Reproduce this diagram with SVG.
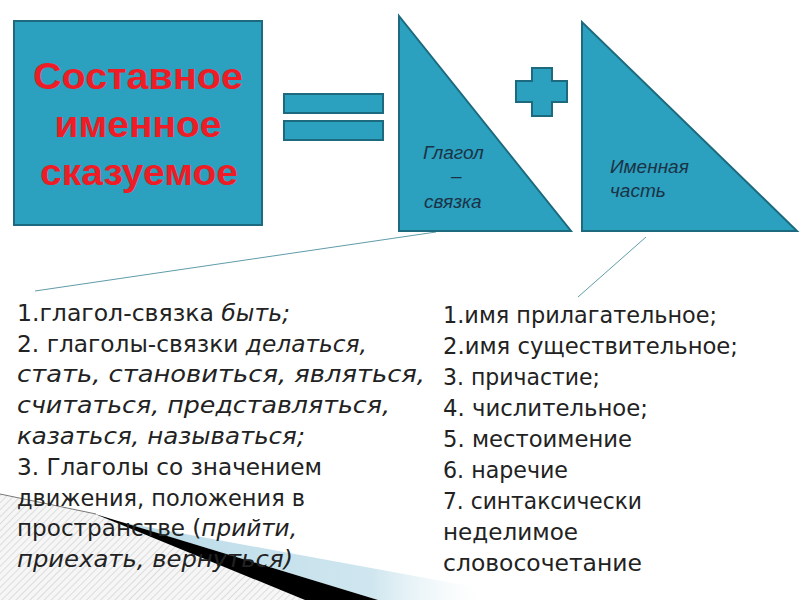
<svg xmlns="http://www.w3.org/2000/svg" width="800" height="600" viewBox="0 0 800 600">
<defs>
<style>
.shape{fill:#2ba0bf;stroke:#1d6a7e;stroke-width:2;stroke-linejoin:miter}
.title{font-family:"Liberation Sans",Arial,sans-serif;font-weight:bold;font-size:36px;fill:#ee1c25;text-anchor:middle}
.lbl{font-family:"Liberation Sans",Arial,sans-serif;font-style:italic;font-size:19px;fill:#1b3346}
.body{font-family:"DejaVu Sans","Liberation Sans",sans-serif;font-size:23px;fill:#222}
.it{font-style:italic}
.conn{stroke:#5f9ca9;stroke-width:1;fill:none}
</style>
<pattern id="hatch" width="5" height="5" patternUnits="userSpaceOnUse" patternTransform="rotate(45)">
<rect width="5" height="5" fill="#f6f6f6"/>
<line x1="0" y1="0" x2="0" y2="5" stroke="#d4d4d4" stroke-width="1.5"/>
</pattern>
<linearGradient id="blue" x1="0" y1="0" x2="1" y2="0">
<stop offset="0" stop-color="#b9dbe8"/>
<stop offset="0.7" stop-color="#cfe6ef"/>
<stop offset="1" stop-color="#eef6f9" stop-opacity="0"/>
</linearGradient>
</defs>
<rect width="800" height="600" fill="#ffffff"/>

<g id="decor">
<polygon points="0,494 96,514 305,600 0,600" fill="url(#hatch)"/>
<line x1="0" y1="494" x2="96" y2="514" stroke="#777" stroke-width="1"/>
<polygon points="120,522 480,588 480,600 378,600" fill="url(#blue)"/>
<polygon points="95,514 378,600 305,600" fill="#000"/>
</g>

<g id="connectors">
<line class="conn" x1="436" y1="232" x2="35" y2="291"/>
<line class="conn" x1="646" y1="237" x2="578" y2="297"/>
</g>

<g id="main">
<rect class="shape" x="14" y="21" width="248" height="204"/>
<text class="title" x="138" y="89" textLength="210" lengthAdjust="spacingAndGlyphs">Составное</text>
<text class="title" x="138" y="137" textLength="167" lengthAdjust="spacingAndGlyphs">именное</text>
<text class="title" x="139" y="185" textLength="198" lengthAdjust="spacingAndGlyphs">сказуемое</text>
</g>

<g id="equals">
<rect class="shape" x="284" y="94" width="99" height="19"/>
<rect class="shape" x="284" y="121" width="99" height="19"/>
</g>

<g id="verb">
<polygon class="shape" points="399,16 399,231 571,231"/>
<text class="lbl" x="423" y="159">Глагол</text>
<text class="lbl" x="451" y="182">–</text>
<text class="lbl" x="424" y="208">связка</text>
</g>

<g id="plus">
<polygon class="shape" points="532,68 552,68 552,81 567,81 567,102 552,102 552,116 532,116 532,102 516,102 516,81 532,81"/>
</g>

<g id="nominal">
<polygon class="shape" points="582,22 582,231 797,231"/>
<text class="lbl" x="610" y="173">Именная</text>
<text class="lbl" x="610" y="197">часть</text>
</g>

<g id="left-list" class="body">
<text x="17" y="321" textLength="273" lengthAdjust="spacingAndGlyphs">1.глагол-связка <tspan class="it">быть;</tspan></text>
<text x="17" y="352" textLength="350" lengthAdjust="spacingAndGlyphs">2. глаголы-связки <tspan class="it">делаться,</tspan></text>
<text x="17" y="382" textLength="408" lengthAdjust="spacingAndGlyphs" class="it">стать, становиться, являться,</text>
<text x="17" y="413" textLength="373" lengthAdjust="spacingAndGlyphs" class="it">считаться, представляться,</text>
<text x="17" y="444" textLength="288" lengthAdjust="spacingAndGlyphs" class="it">казаться, называться;</text>
<text x="17" y="475" textLength="305" lengthAdjust="spacingAndGlyphs">3.  Глаголы со значением</text>
<text x="17" y="506" textLength="288" lengthAdjust="spacingAndGlyphs">движения, положения в</text>
<text x="17" y="536" textLength="280" lengthAdjust="spacingAndGlyphs">пространстве (<tspan class="it">прийти,</tspan></text>
<text x="17" y="567" textLength="276" lengthAdjust="spacingAndGlyphs" class="it">приехать, вернуться)</text>
</g>

<g id="right-list" class="body">
<text x="443" y="323" textLength="274" lengthAdjust="spacingAndGlyphs">1.имя прилагательное;</text>
<text x="443" y="354" textLength="295" lengthAdjust="spacingAndGlyphs">2.имя существительное;</text>
<text x="443" y="385" textLength="157" lengthAdjust="spacingAndGlyphs">3. причастие;</text>
<text x="443" y="416" textLength="205" lengthAdjust="spacingAndGlyphs">4. числительное;</text>
<text x="443" y="447" textLength="189" lengthAdjust="spacingAndGlyphs">5. местоимение</text>
<text x="443" y="478" textLength="125" lengthAdjust="spacingAndGlyphs">6. наречие</text>
<text x="443" y="509" textLength="199" lengthAdjust="spacingAndGlyphs">7. синтаксически</text>
<text x="443" y="540" textLength="135" lengthAdjust="spacingAndGlyphs">неделимое</text>
<text x="443" y="571" textLength="199" lengthAdjust="spacingAndGlyphs">словосочетание</text>
</g>
</svg>
